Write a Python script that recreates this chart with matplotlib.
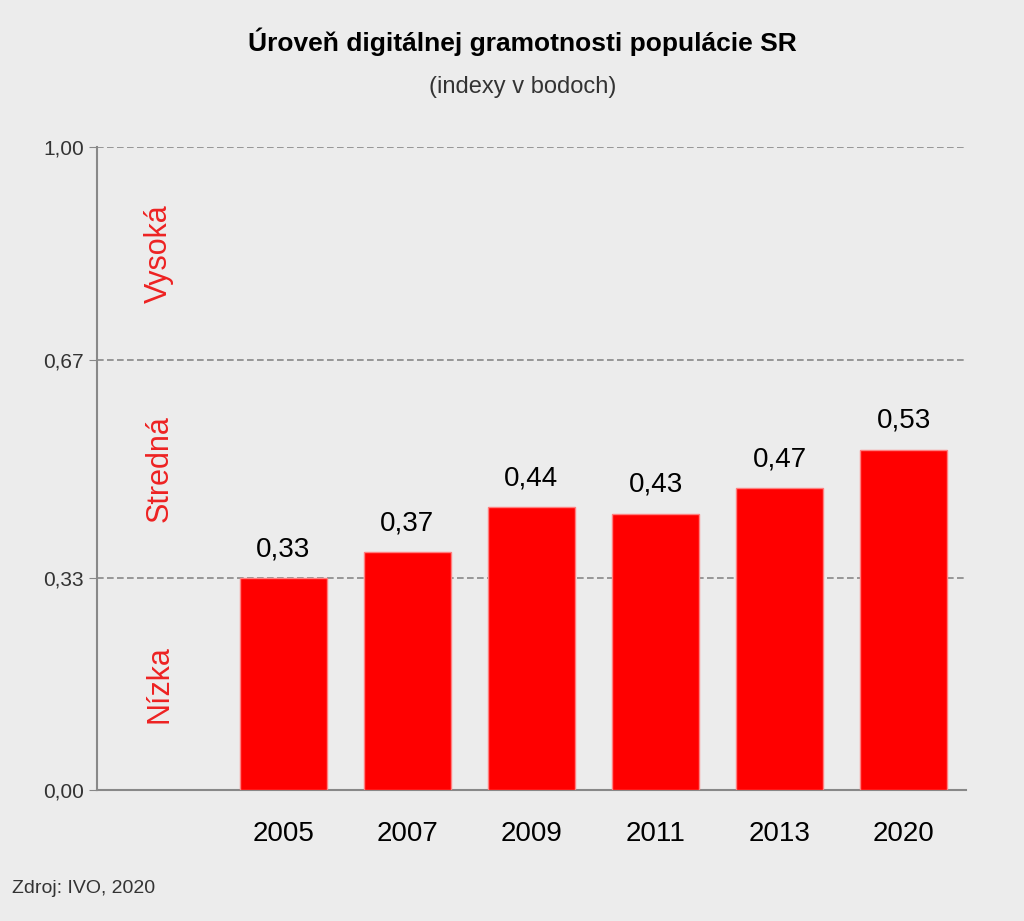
import matplotlib
matplotlib.use("Agg")
import matplotlib.pyplot as plt

plt.rcParams["font.family"] = "Liberation Sans"

years = ["2005", "2007", "2009", "2011", "2013", "2020"]
values = [0.33, 0.37, 0.44, 0.43, 0.47, 0.53]
value_labels = ["0,33", "0,37", "0,44", "0,43", "0,47", "0,53"]
yticks = [0.0, 0.33, 0.67, 1.0]
ytick_labels = ["0,00", "0,33", "0,67", "1,00"]
zones = [("Nízka", 0.165), ("Stredná", 0.5), ("Vysoká", 0.835)]

bg = "#ececec"
fig = plt.figure(figsize=(10.24, 9.21), dpi=100, facecolor=bg)
ax = fig.add_axes([0.095, 0.142, 0.848, 0.698], facecolor=bg)

xs = list(range(1, len(years) + 1))
ax.bar(xs, values, width=0.7, color="#ff0000", edgecolor="#ff8080", linewidth=1, zorder=3)
for x, v, l in zip(xs, values, value_labels):
    ax.text(x, v + 0.025, l, ha="center", va="bottom", fontsize=20)
for t in yticks[1:]:
    ax.axhline(t, color="#888888", linestyle=(0, (4, 2)), linewidth=1.2, zorder=1)
for name, y in zones:
    ax.text(0.0, y, name, rotation=90, ha="center", va="center", color="#ee2222", fontsize=22)

ax.set_xlim(-0.5, 6.5)
ax.set_ylim(0, 1.0)
ax.set_xticks(xs)
ax.set_xticklabels(years, fontsize=20)
ax.set_yticks(yticks)
ax.set_yticklabels(ytick_labels, fontsize=15, color="#333333")
ax.tick_params(axis="x", length=0, pad=22)
ax.tick_params(axis="y", length=6, direction="out", color="#888888")
for s in ["top", "right"]:
    ax.spines[s].set_visible(False)
for s in ["left", "bottom"]:
    ax.spines[s].set_color("#888888")
    ax.spines[s].set_linewidth(1.5)

fig.text(0.51, 0.955, "Úroveň digitálnej gramotnosti populácie SR", ha="center", va="center",
         fontsize=19, fontweight="bold")
fig.text(0.51, 0.905, "(indexy v bodoch)", ha="center", va="center", fontsize=17, color="#333333")
fig.text(0.012, 0.035, "Zdroj: IVO, 2020", ha="left", va="center", fontsize=14, color="#333333")

fig.savefig("out.png", dpi=100, facecolor=bg)
